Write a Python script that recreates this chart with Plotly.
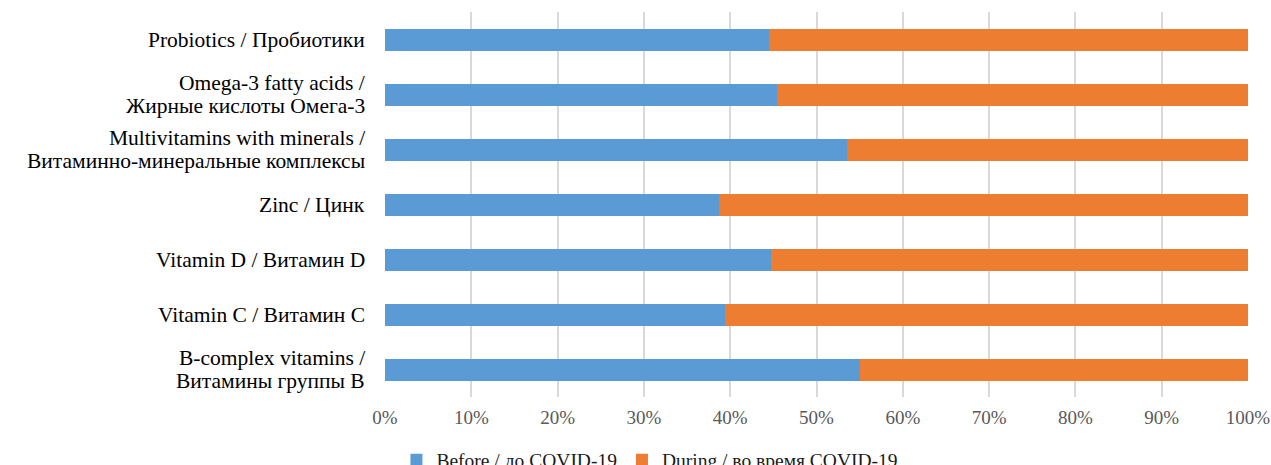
import plotly.graph_objects as go

# Share of respondents taking each supplement before vs. during COVID-19 (100% stacked)
categories = [
    "B-complex vitamins /\nВитамины группы B",
    "Vitamin C / Витамин C",
    "Vitamin D / Витамин D",
    "Zinc / Цинк",
    "Multivitamins with minerals /\nВитаминно-минеральные комплексы",
    "Omega-3 fatty acids /\nЖирные кислоты Омега-3",
    "Probiotics / Пробиотики",
]
before_pct = [55.0, 39.4, 44.7, 38.7, 53.5, 45.4, 44.5]
during_pct = [100 - v for v in before_pct]

series_names = ["Before / до COVID-19", "During / во время COVID-19"]
series_colors = ["#5B9BD5", "#ED7D31"]

tick_vals = [0, 10, 20, 30, 40, 50, 60, 70, 80, 90, 100]
tick_text = [f"{v}%" for v in tick_vals]

font_family = "'Liberation Serif'"
label_size = 21.5
line_step = 23  # px between the two lines of a wrapped category label

fig = go.Figure()
for name, vals, color in zip(series_names, [before_pct, during_pct], series_colors):
    fig.add_trace(go.Bar(
        y=categories,
        x=vals,
        name=name,
        orientation="h",
        marker=dict(color=color, line=dict(width=0)),
    ))

# Category labels drawn line by line so wrapped labels keep a tight leading
for cat in categories:
    lines = cat.split("\n")
    n = len(lines)
    for i, line in enumerate(lines):
        offset = ((n - 1) / 2 - i) * line_step
        fig.add_annotation(
            x=0, xref="paper", xanchor="right", xshift=-18,
            y=cat, yref="y", yanchor="middle", yshift=offset,
            text=line, showarrow=False,
            font=dict(family=font_family, size=label_size, color="#000000"),
        )

fig.update_layout(
    barmode="stack",
    bargap=0.6,
    width=1271,
    height=465,
    margin=dict(l=385, r=23, t=12, b=68, autoexpand=False),
    paper_bgcolor="white",
    plot_bgcolor="white",
    font=dict(family=font_family, size=21, color="#000000"),
    xaxis=dict(
        range=[0, 100],
        tickvals=tick_vals,
        ticktext=tick_text,
        showgrid=True,
        gridcolor="#d9d9d9",
        gridwidth=1.5,
        zeroline=False,
        showline=False,
        ticks="",
        automargin=False,
        tickfont=dict(family=font_family, size=19, color="#595959"),
        ticklabelstandoff=7,
    ),
    yaxis=dict(
        showgrid=False,
        zeroline=False,
        showline=False,
        ticks="",
        automargin=False,
        showticklabels=False,
    ),
    legend=dict(
        orientation="h",
        x=0.307,
        xanchor="center",
        y=-0.113,
        yanchor="top",
        font=dict(family=font_family, size=19.5, color="#1a1a1a"),
        traceorder="normal",
        itemwidth=30,
    ),
    showlegend=True,
)

fig.write_html("out.html")
